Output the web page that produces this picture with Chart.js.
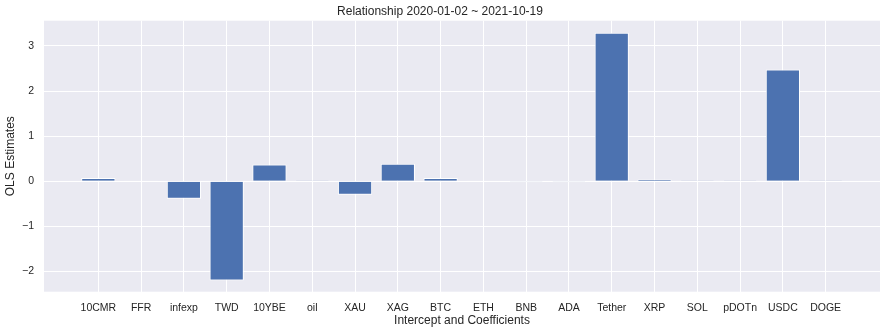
<!DOCTYPE html>
<html>
<head>
<meta charset="utf-8">
<script src="https://cdn.jsdelivr.net/npm/chart.js@4"></script>
<style>
  body { margin: 0; background: #fff; }
  #wrap { width: 887px; height: 333px; }
</style>
</head>
<body>
<div id="wrap"><canvas id="olsChart"></canvas></div>
<script>
const titleText = 'Relationship 2020-01-02 ~ 2021-10-19';
const coefNames = ['10CMR', 'FFR', 'infexp', 'TWD', '10YBE', 'oil', 'XAU', 'XAG', 'BTC',
    'ETH', 'BNB', 'ADA', 'Tether', 'XRP', 'SOL', 'pDOTn', 'USDC', 'DOGE'];
const estimates = [0.07, 0.015, -0.39, -2.20, 0.37, 0.002, -0.30, 0.39, 0.07,
    0.015, -0.02, -0.02, 3.29, 0.04, 0.002, 0.002, 2.48, 0.001];
const yTicks = [-2, -1, 0, 1, 2, 3];

const textColor = '#262626';
const font = 'Liberation Sans, Arial, sans-serif';

// plot area background like seaborn darkgrid
const plotBg = {
    id: 'plotBg',
    beforeDraw(chart) {
        const { ctx, chartArea: a } = chart;
        ctx.save();
        ctx.fillStyle = '#fff';
        ctx.fillRect(0, 0, chart.width, chart.height);
        ctx.fillStyle = '#EAEAF2';
        ctx.fillRect(a.left, a.top, a.right - a.left, a.bottom - a.top);
        ctx.restore();
    }
};

const ctx = document.getElementById('olsChart').getContext('2d');
new Chart(ctx, {
    type: 'bar',
    data: {
        datasets: [{
            label: 'OLS Estimates',
            data: estimates.map((v, i) => ({ x: i, y: v })),
            backgroundColor: '#4C72B0',
            borderColor: '#ffffff',
            borderWidth: 1,
            barPercentage: 0.8,
            categoryPercentage: 1
        }]
    },
    options: {
        responsive: true,
        maintainAspectRatio: false,
        animation: false,
        layout: { padding: { left: 0, right: 7, top: 0, bottom: 0 } },
        plugins: {
            legend: { display: false },
            tooltip: { enabled: false },
            title: {
                display: true,
                text: titleText,
                color: textColor,
                font: { family: font, size: 12, weight: 'normal' },
                padding: { top: 4, bottom: 2.3 }
            }
        },
        scales: {
            x: {
                type: 'linear',
                offset: false,
                min: -1.27,
                max: coefNames.length - 1 + 1.27,
                afterBuildTicks: s => { s.ticks = coefNames.map((_, i) => ({ value: i })); },
                afterFit: s => { s.height = 41.3; },
                ticks: {
                    callback: v => coefNames[v],
                    color: textColor,
                    font: { family: font, size: 10.5 },
                    padding: 10,
                    maxRotation: 0,
                    autoSkip: false
                },
                grid: { color: '#ffffff', lineWidth: 1, drawTicks: false, offset: false },
                border: { display: false },
                title: {
                    display: true,
                    text: 'Intercept and Coefficients',
                    color: textColor,
                    font: { family: font, size: 12 },
                    padding: { top: 0, bottom: 4.8 }
                }
            },
            y: {
                min: -2.45,
                max: 3.56,
                afterBuildTicks: s => { s.ticks = yTicks.map(v => ({ value: v })); },
                afterFit: s => { s.width = 44; },
                ticks: {
                    callback: v => (v < 0 ? '\u2212' + Math.abs(v) : String(v)),
                    color: textColor,
                    font: { family: font, size: 10.5 },
                    padding: 10
                },
                grid: { color: '#ffffff', lineWidth: 1, drawTicks: false },
                border: { display: false },
                title: {
                    display: true,
                    text: 'OLS Estimates',
                    color: textColor,
                    font: { family: font, size: 12 },
                    padding: { top: 3.3, bottom: 0 }
                }
            }
        }
    },
    plugins: [plotBg]
});
</script>
</body>
</html>
